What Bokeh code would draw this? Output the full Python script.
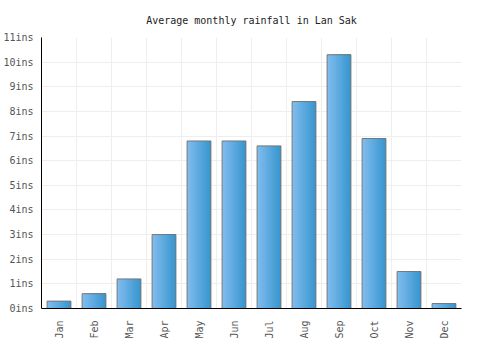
import math
from bokeh.plotting import figure
from bokeh.models import FixedTicker, PrintfTickFormatter, ColumnDataSource, FactorRange
from bokeh.transform import dodge
from bokeh.embed import file_html
from bokeh.resources import INLINE

months = ["Jan", "Feb", "Mar", "Apr", "May", "Jun", "Jul", "Aug", "Sep", "Oct", "Nov", "Dec"]
rainfall = [0.3, 0.6, 1.2, 3.0, 6.8, 6.8, 6.6, 8.4, 10.3, 6.9, 1.5, 0.2]
y_ticks = list(range(0, 12))

FONT = "DejaVu Sans Mono"
src = ColumnDataSource(dict(month=months, value=rainfall))

p = figure(width=500, height=350, x_range=FactorRange(*months), y_range=(0, 11),
           output_backend="svg", toolbar_location=None,
           title="Average monthly rainfall in Lan Sak",
           min_border_left=41, min_border_right=39, min_border_top=37, min_border_bottom=42)
p.background_fill_color = "white"
p.border_fill_color = "white"
p.outline_line_color = None

p.title.align = "center"
p.title.text_font = FONT
p.title.text_font_size = "10px"
p.title.text_font_style = "normal"
p.title.text_color = "#222222"
p.title.standoff = 24

# gradient bars from overlapping slices
bar_w = 0.68
n = 16
c0 = (0x80, 0xbc, 0xee)
c1 = (0x38, 0x96, 0xcf)
sw = bar_w / n
for i in range(n):
    t = i / (n - 1)
    col = "#%02x%02x%02x" % tuple(int(round(a + (b - a) * t)) for a, b in zip(c0, c1))
    w = bar_w - i * sw
    off = -bar_w / 2 + i * sw + w / 2
    p.vbar(x=dodge("month", off, range=p.x_range), top="value", bottom=0, width=w,
           source=src, fill_color=col, line_color=None)
p.vbar(x="month", top="value", bottom=0, width=bar_w, source=src,
       fill_color=None, line_color="#777777", line_width=1)

p.xgrid.ticker = FixedTicker(ticks=list(range(0, 13)))
p.xgrid.grid_line_color = "#eeeeee"
p.ygrid.grid_line_color = "#eeeeee"
p.ygrid.ticker = FixedTicker(ticks=y_ticks)

p.yaxis.ticker = FixedTicker(ticks=y_ticks)
p.yaxis.formatter = PrintfTickFormatter(format="%dins")
for ax in (p.xaxis, p.yaxis):
    ax.axis_line_color = "black"
    ax.axis_line_width = 1
    ax.major_tick_line_color = None
    ax.minor_tick_line_color = None
    ax.major_label_text_font = FONT
    ax.major_label_text_font_size = "10px"
    ax.major_label_text_color = "#555555"
p.xaxis.major_label_orientation = math.pi / 2
p.yaxis.major_label_standoff = 2
p.xaxis.major_label_standoff = 6

open("out.html", "w").write(file_html(p, INLINE))
